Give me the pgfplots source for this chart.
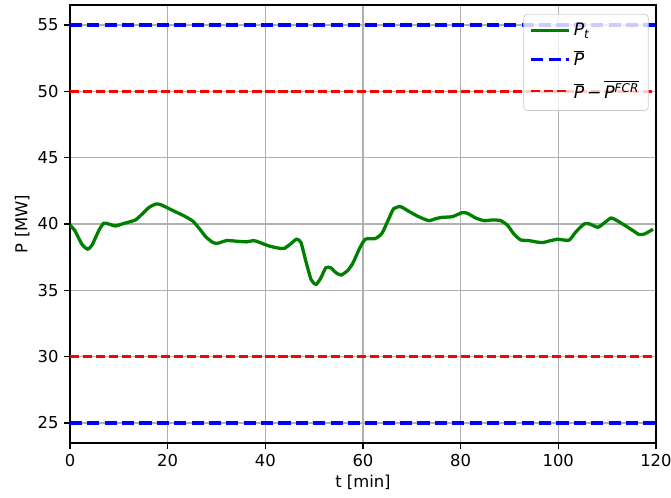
\documentclass[border=0pt]{standalone}
\usepackage{fontspec}
\setmainfont{DejaVu Sans}
\usepackage{pgfplots}
\pgfplotsset{compat=1.18}
\definecolor{mplgreen}{rgb}{0,0.5,0}
\definecolor{mplblue}{rgb}{0,0,1}
\definecolor{mplred}{rgb}{1,0,0}
\begin{document}
\begin{tikzpicture}
\begin{axis}[
  name=ax,
  scale only axis,
  width=357.5pt, height=267.2pt,
  xmin=0, xmax=120, ymin=23.5, ymax=56.5,
  xtick={0,20,...,120}, ytick={25,30,...,55},
  /pgf/number format/assume math mode=true,
  tick label style={font=\fontsize{10}{12}\selectfont},
  label style={font=\fontsize{10}{12}\selectfont},
  xlabel={t [min]}, ylabel={P [MW]},
  xlabel style={yshift=2pt},
  ylabel style={yshift=-2pt},
  grid=major,
  major grid style={color=black!31, line width=0.8pt},
  axis line style={line width=0.8pt},
  tick pos=left, tick align=outside,
  major tick length=3.5pt,
  every tick/.style={black, line width=0.8pt},
  legend cell align=left,
  legend style={at={(rel axis cs:1,1)}, anchor=north east, xshift=-4.5pt, yshift=-5.5pt,
    draw=black!20, rounded corners=2pt, fill=white, fill opacity=0.8, text opacity=1,
    font=\fontsize{10.5}{12}\selectfont, row sep=3.2pt, inner sep=3.5pt},
  legend image code/.code={\draw[#1] (0pt,0pt) -- (23pt,0pt);},
]
\addplot[color=mplgreen, line width=2pt, smooth, tension=0.4] coordinates {
(0,39.9) (1,39.5) (2.4,38.5) (3.6,38.1) (4.5,38.4) (5.9,39.5) (6.9,40.05) (7.9,40.0)
(9.3,39.85) (10.7,40.0) (12.1,40.15) (13.4,40.3) (14.8,40.75) (16.2,41.25) (17.6,41.5)
(18.6,41.45) (20.3,41.15) (21.7,40.9) (23.4,40.6) (25.2,40.2) (26.6,39.6) (27.9,39.0)
(29.3,38.6) (30.3,38.55) (32.1,38.75) (34.1,38.7) (36.2,38.65) (37.6,38.75) (38.9,38.6)
(40.7,38.35) (42.4,38.2) (43.8,38.15) (45.2,38.5) (46.4,38.85) (47.3,38.6) (48.3,37.2)
(49.4,35.8) (50.4,35.45) (51.4,35.95) (52.4,36.7) (53.4,36.7) (54.4,36.35) (55.5,36.15)
(56.9,36.5) (58.0,37.1) (59.3,38.15) (60.5,38.85) (62.5,38.9) (63.9,39.3) (65.3,40.4)
(66.3,41.15) (67.7,41.3) (69.4,40.95) (71.4,40.55) (73.5,40.25) (74.9,40.4) (76.2,40.5)
(78.3,40.55) (80.3,40.85) (81.4,40.8) (83.1,40.45) (84.8,40.25) (86.5,40.3) (88.2,40.25)
(89.6,39.9) (90.9,39.25) (92.3,38.8) (94,38.75) (95.4,38.65) (96.8,38.6) (98.5,38.75)
(99.9,38.85) (100.9,38.8) (102.3,38.8) (103.6,39.4) (105.3,40.0) (106.4,40.0) (108.1,39.75)
(109.5,40.1) (110.8,40.45) (111.8,40.3) (113.6,39.9) (115.3,39.5) (116.6,39.2)
(117.7,39.25) (119.4,39.6)
};
\addlegendentry{\textit{P}\textsubscript{\textit{t}}}
\addplot[color=mplblue, line width=2pt, dash pattern=on 7.4pt off 3.2pt] coordinates {(0,55) (120,55)};
\addlegendentry{$\overline{\mbox{\textit{P}}}$}
\addplot[color=mplred, line width=1.6pt, dash pattern=on 5.55pt off 2.4pt] coordinates {(0,50) (120,50)};
\addlegendentry{$\overline{\mbox{\textit{P}}}$\,−\,$\overline{\mbox{\textit{P}\textsuperscript{\textit{FCR}}}}$}
\addplot[color=mplblue, line width=2pt, dash pattern=on 7.4pt off 3.2pt, forget plot] coordinates {(0,25) (120,25)};
\addplot[color=mplred, line width=1.6pt, dash pattern=on 5.55pt off 2.4pt, forget plot] coordinates {(0,30) (120,30)};
\end{axis}
\pgfresetboundingbox
\path[use as bounding box] ([shift={(-42.7pt,-33.6pt)}]ax.south west) rectangle ([shift={(9.2pt,3.05pt)}]ax.north east);
\end{tikzpicture}
\end{document}
